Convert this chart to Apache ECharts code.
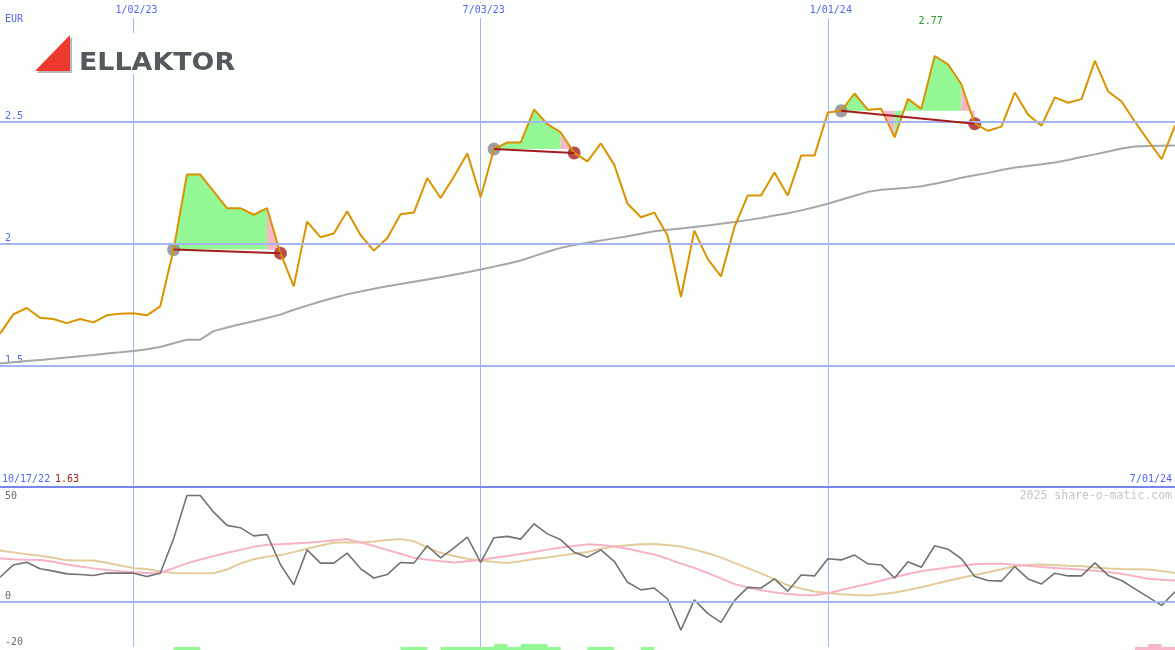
<!DOCTYPE html>
<html><head><meta charset="utf-8">
<script src="https://cdn.jsdelivr.net/npm/echarts@6/dist/echarts.min.js"></script>
<style>html,body{margin:0;padding:0;background:#fdfffd}#c{width:1175px;height:650px}</style>
</head><body><div id="c"></div>
<script>
// ---------- DATA ----------
const startDay = '2022-10-24';               // first weekly point
const dateTickLabels = ['1/02/23', '7/03/23', '1/01/24'];
const periodStartLabel = '10/17/22';
const periodEndLabel = '7/01/24';
const currencyLabel = 'EUR';
const creditLabel = '2025 share-o-matic.com';
const companyName = 'ELLAKTOR';

const price = [
  1.630, 1.709, 1.735, 1.695, 1.690, 1.673, 1.690, 1.676, 1.705, 1.712,
  1.714, 1.705, 1.742, 1.975, 2.283, 2.283, 2.214, 2.145, 2.145, 2.118,
  2.145, 1.960, 1.824, 2.090, 2.026, 2.041, 2.132, 2.035, 1.971, 2.022,
  2.120, 2.127, 2.269, 2.187, 2.275, 2.370, 2.190, 2.388, 2.415, 2.415,
  2.551, 2.490, 2.456, 2.372, 2.337, 2.411, 2.324, 2.163, 2.108, 2.127,
  2.033, 1.780, 2.053, 1.937, 1.865, 2.067, 2.197, 2.197, 2.292, 2.197,
  2.361, 2.361, 2.538, 2.545, 2.616, 2.549, 2.553, 2.436, 2.594, 2.553,
  2.770, 2.736, 2.654, 2.492, 2.463, 2.480, 2.620, 2.529, 2.484, 2.600,
  2.578, 2.593, 2.750, 2.624, 2.583, 2.500, 2.422, 2.346, 2.484
];
const movingAvg = [
  1.507, 1.512, 1.517, 1.522, 1.527, 1.532, 1.537, 1.542, 1.548, 1.553,
  1.559, 1.566, 1.575, 1.590, 1.605, 1.605, 1.640, 1.655, 1.668, 1.681,
  1.694, 1.708, 1.728, 1.745, 1.762, 1.777, 1.791, 1.803, 1.814, 1.824,
  1.834, 1.843, 1.852, 1.861, 1.872, 1.882, 1.893, 1.905, 1.917, 1.930,
  1.948, 1.966, 1.982, 1.994, 2.003, 2.012, 2.021, 2.030, 2.040, 2.050,
  2.056, 2.062, 2.068, 2.074, 2.081, 2.088, 2.096, 2.105, 2.115, 2.124,
  2.136, 2.149, 2.163, 2.180, 2.196, 2.212, 2.221, 2.225, 2.229, 2.235,
  2.245, 2.257, 2.270, 2.280, 2.290, 2.302, 2.312, 2.318, 2.325, 2.333,
  2.343, 2.355, 2.366, 2.378, 2.390, 2.398, 2.400, 2.401, 2.402
];
// trades: entry week index, exit week index, weeks (interval starts) shown as losing
const tradeEntry = [13, 37, 63];
const tradeExit = [21, 43, 73];
const lossWeeks = [20, 42, 66, 72];

const oscillator = [
  10.5, 15.9, 17.1, 14.2, 13.2, 12.0, 11.7, 11.3, 12.4, 12.3,
  12.3, 10.8, 12.3, 27.3, 46.3, 46.3, 39.0, 33.2, 32.2, 28.6,
  29.2, 16.1, 7.2, 22.5, 16.7, 16.7, 21.1, 14.3, 10.2, 11.7,
  17.0, 16.7, 24.3, 19.0, 23.4, 28.1, 17.0, 27.8, 28.4, 27.2,
  33.9, 29.5, 26.9, 21.5, 19.3, 22.5, 17.5, 8.3, 5.0, 5.8,
  1.0, -12.6, 0.6, -5.3, -9.2, 0.3, 6.1, 5.8, 9.8, 4.4,
  11.5, 11.1, 18.6, 18.1, 20.2, 16.4, 15.9, 10.2, 17.3, 14.9,
  24.3, 22.8, 18.6, 10.8, 9.1, 8.8, 15.2, 9.8, 7.6, 12.3,
  11.1, 11.1, 16.8, 11.3, 9.1, 5.4, 1.8, -1.8, 4.2
];
const signalFast = [
  18.7, 18.4, 18.2, 18.1, 17.3, 16.1, 15.2, 14.4, 13.7, 13.1,
  12.7, 12.4, 12.5, 14.5, 16.6, 18.3, 19.8, 21.2, 22.5, 23.8,
  24.7, 25.0, 25.3, 25.6, 26.1, 26.7, 27.2, 25.8, 24.2, 22.5,
  20.8, 19.0, 18.2, 17.5, 17.0, 17.5, 18.1, 19.0, 19.8, 20.7,
  21.6, 22.6, 23.5, 24.2, 24.9, 24.6, 24.0, 23.0, 21.7, 20.5,
  18.6, 16.5, 14.6, 12.4, 10.0, 7.5, 6.0, 4.8, 3.9, 3.2,
  2.8, 2.6, 3.5, 4.9, 6.3, 7.6, 9.1, 10.5, 11.9, 13.1,
  14.0, 14.8, 15.5, 16.2, 16.4, 16.4, 16.0, 15.5, 15.0, 14.6,
  14.2, 13.8, 13.4, 12.8, 12.0, 11.0, 9.9, 9.4, 9.1
];
const signalSlow = [
  22.2, 21.4, 20.6, 19.9, 19.0, 17.9, 17.8, 17.8, 16.9, 15.7,
  14.5, 14.1, 13.0, 12.4, 12.3, 12.3, 12.3, 13.9, 16.5, 18.4,
  19.5, 20.2, 21.5, 23.0, 24.4, 25.6, 25.8, 25.7, 26.2, 26.8,
  27.2, 26.3, 23.5, 21.2, 19.8, 18.6, 17.8, 17.2, 16.8, 17.5,
  18.5, 19.2, 20.0, 20.8, 21.6, 23.0, 24.0, 24.5, 25.0, 25.1,
  24.6, 24.0, 22.6, 21.0, 19.2, 16.8, 14.5, 12.2, 9.7, 7.0,
  5.6, 4.3, 3.6, 3.1, 2.7, 2.5, 3.1, 3.8, 4.9, 6.1,
  7.6, 9.0, 10.3, 11.5, 12.7, 14.0, 15.3, 15.9, 16.1, 15.9,
  15.6, 15.4, 14.8, 14.3, 14.1, 14.0, 13.9, 13.2, 12.4
];
const barsUp = [
  0,0,0,0,0,0,0,0,0,0, 0,0,0,1,1,0,0,0,0,0, 0,0,0,0,0,0,0,0,0,0,
  1,1,0,1,1,1,1,2,1,2, 2,1,0,0,1,1,0,0,1,0, 0,0,0,0,0,0,0,0,0,0,
  0,0,0,0,0,0,0,0,0,0, 0,0,0,0,0,0,0,0,0,0, 0,0,0,0,0,0,0,0,0
];
const barsDown = [
  0,0,0,0,0,0,0,0,0,0, 0,0,0,0,0,0,0,0,0,0, 0,0,0,0,0,0,0,0,0,0,
  0,0,0,0,0,0,0,0,0,0, 0,0,0,0,0,0,0,0,0,0, 0,0,0,0,0,0,0,0,0,0,
  0,0,0,0,0,0,0,0,0,0, 0,0,0,0,0,0,0,0,0,0, 0,0,0,0,0,1,2,1,0
];
const mainTicks = [1.5, 2, 2.5];
const lowerTicks = [50, 0, -20];

// ---------- BUILD ----------
const t0 = Date.parse(startDay + 'T00:00:00Z');
const dates = price.map((_, i) => {
  const d = new Date(t0 + i * 7 * 86400000);
  return (d.getUTCMonth() + 1) + '/' + String(d.getUTCDate()).padStart(2, '0') + '/' + String(d.getUTCFullYear()).slice(2);
});
const isTick = (i) => dateTickLabels.includes(dates[i]);

const MONO = '"DejaVu Sans Mono", monospace';
const BLUE = '#5565ee';
const GRIDC = '#a5b3f2';
const GREEN = '#94f894';
const PINK = '#f9b6c7';
const BG = '#fdfffd';

const fillSeries = [];
tradeEntry.forEach((e, t) => {
  const x = tradeExit[t], level = price[e];
  let runStart = e;
  for (let k = e; k < x; k++) {
    const loss = lossWeeks.includes(k);
    const last = (k + 1 === x);
    const nextLoss = last ? null : lossWeeks.includes(k + 1);
    if (last || nextLoss !== loss) {
      const a = runStart, b = k + 1;
      fillSeries.push({
        type: 'line', xAxisIndex: 0, yAxisIndex: 0, silent: true, z: 1,
        data: price.map((v, i) => (i >= a && i <= b) ? v : '-'),
        symbol: 'none', showSymbol: false,
        lineStyle: { opacity: 0, width: 0 },
        areaStyle: { color: loss ? PINK : GREEN, opacity: 1, origin: level }
      });
      runStart = k + 1;
    }
  }
});

const chart = echarts.init(document.getElementById('c'), null, { renderer: 'canvas' });
const catAxis = (gi, extra) => Object.assign({
  gridIndex: gi, type: 'category', data: dates, boundaryGap: false,
  axisTick: { show: false }, axisLine: { show: false, onZero: false }, axisLabel: { show: false },
  splitLine: { show: true, interval: (i) => isTick(i), lineStyle: { color: GRIDC, width: 1 } }
}, extra);

chart.setOption({
  animation: false,
  backgroundColor: BG,
  grid: [
    { left: 0, right: 0, top: -1, height: 488 },
    { left: 0, right: 0, top: 487, height: 160 },
    { left: 0, right: 0, top: 641, height: 9 }
  ],
  xAxis: [
    catAxis(0, {
      position: 'top',
      axisLabel: {
        show: true, inside: true, margin: 3, interval: (i) => isTick(i),
        color: BLUE, fontFamily: MONO, fontSize: 10, lineHeight: 12,
        backgroundColor: BG, padding: [1, 0, 2, 6]
      }
    }),
    catAxis(1, { position: 'top', axisLine: { show: true, onZero: false, lineStyle: { color: '#7886ea', width: 2 } } }),
    catAxis(2, { show: false, splitLine: { show: false } })
  ],
  yAxis: [
    {
      gridIndex: 0, type: 'value', min: 1, max: 3, interval: 0.5,
      axisLine: { show: false }, axisTick: { show: false }, splitLine: { show: false },
      axisLabel: {
        inside: true, margin: 5, verticalAlign: 'bottom',
        color: BLUE, fontFamily: MONO, fontSize: 10,
        formatter: (v) => mainTicks.includes(v) ? String(v) : ''
      }
    },
    {
      gridIndex: 1, type: 'value', min: -20, max: 50, interval: 10,
      axisLine: { show: false }, axisTick: { show: false }, splitLine: { show: false },
      axisLabel: {
        inside: true, margin: 5, verticalAlign: 'middle', showMinLabel: true, showMaxLabel: true,
        color: '#6c6c6c', fontFamily: MONO, fontSize: 10,
        formatter: (v) => !lowerTicks.includes(v) ? '' : (v === lowerTicks[0] ? '{dn|' + v + '}' : '{up|' + v + '}'),
        rich: {
          dn: { padding: [18, 0, 0, 0], color: '#6c6c6c', fontFamily: MONO, fontSize: 10 },
          up: { padding: [0, 0, 10, 0], color: '#6c6c6c', fontFamily: MONO, fontSize: 10 }
        }
      }
    },
    { gridIndex: 2, type: 'value', min: 0, max: 3, show: false, splitLine: { show: false } }
  ],
  series: [
    {
      // carrier for the horizontal price grid lines (drawn beneath everything)
      type: 'line', name: 'gridlines', xAxisIndex: 0, yAxisIndex: 0, z: 0, silent: true,
      data: price, symbol: 'none', lineStyle: { opacity: 0, width: 0 },
      markLine: {
        silent: true, symbol: ['none', 'none'], label: { show: false },
        lineStyle: { color: GRIDC, width: 2, type: 'solid' },
        data: mainTicks.map((v) => ({ yAxis: v }))
      }
    },
    {
      type: 'line', name: 'avg', xAxisIndex: 0, yAxisIndex: 0, data: movingAvg, z: 2,
      symbol: 'none', lineStyle: { color: '#a7a7a7', width: 2 }, silent: true
    },
    ...fillSeries,
    {
      type: 'scatter', name: 'entries', xAxisIndex: 0, yAxisIndex: 0, z: 3, silent: true,
      symbolSize: 13, itemStyle: { color: '#868686' },
      data: tradeEntry.map((e) => [e, price[e]])
    },
    {
      type: 'scatter', name: 'exits', xAxisIndex: 0, yAxisIndex: 0, z: 3, silent: true,
      symbolSize: 13, itemStyle: { color: '#a6221e' },
      data: tradeExit.map((e) => [e, price[e]]),
      markLine: {
        silent: true, symbol: ['none', 'none'], label: { show: false },
        lineStyle: { color: '#a31d1d', width: 2, type: 'solid' },
        data: tradeEntry.map((e, t) => [{ coord: [e, price[e]] }, { coord: [tradeExit[t], price[tradeExit[t]]] }])
      }
    },
    {
      type: 'line', name: 'price', xAxisIndex: 0, yAxisIndex: 0, data: price, z: 4,
      symbol: 'none', lineStyle: { color: '#db9200', width: 2 }, silent: true,
      markPoint: {
        symbol: 'circle', symbolSize: 1, itemStyle: { color: 'rgba(0,0,0,0)' },
        label: { show: true, position: 'inside', offset: [-4, -35], color: '#2f9a2f', fontFamily: MONO, fontSize: 10,
          formatter: (p) => Number(p.value).toFixed(2) },
        data: [{ type: 'max' }]
      }
    },
    {
      type: 'line', name: 'slow', xAxisIndex: 1, yAxisIndex: 1, data: signalSlow, z: 2,
      symbol: 'none', lineStyle: { color: '#e4cb9b', width: 2 }, silent: true
    },
    {
      type: 'line', name: 'fast', xAxisIndex: 1, yAxisIndex: 1, data: signalFast, z: 2,
      symbol: 'none', lineStyle: { color: '#f8b2c5', width: 2 }, silent: true
    },
    {
      type: 'line', name: 'osc', xAxisIndex: 1, yAxisIndex: 1, data: oscillator, z: 3,
      symbol: 'none', lineStyle: { color: '#727272', width: 1.6 }, silent: true,
      markLine: {
        silent: true, symbol: ['none', 'none'], label: { show: false },
        lineStyle: { color: GRIDC, width: 2, type: 'solid' },
        data: [{ yAxis: 0 }]
      }
    },
    {
      type: 'line', name: 'barsUp', xAxisIndex: 2, yAxisIndex: 2, data: barsUp, step: 'end',
      symbol: 'none', lineStyle: { width: 0, opacity: 0 }, areaStyle: { color: GREEN, opacity: 1, origin: 'start' }, silent: true
    },
    {
      type: 'line', name: 'barsDown', xAxisIndex: 2, yAxisIndex: 2, data: barsDown, step: 'end',
      symbol: 'none', lineStyle: { width: 0, opacity: 0 }, areaStyle: { color: PINK, opacity: 1, origin: 'start' }, silent: true
    }
  ],
  graphic: [
    { type: 'rect', shape: { x: 0, y: -2, width: 1175, height: 4 }, style: { fill: BG }, z: 45, silent: true },
    { type: 'rect', shape: { x: 30, y: 33, width: 212, height: 41 }, style: { fill: BG }, z: 50 },
    { type: 'polygon', shape: { points: [[37, 73], [72, 37], [72, 73]] }, style: { fill: '#b8b8b8' }, z: 51 },
    { type: 'polygon', shape: { points: [[35, 71], [70, 35], [70, 71]] }, style: { fill: '#ee3a2e' }, z: 52 },
    { type: 'group', x: 79, y: 63.5, scaleX: 1.12, z: 52, children: [
      { type: 'text', style: { x: 0, y: 0, text: companyName, font: 'bold 24px "DejaVu Sans"', fill: '#55585d', align: 'left', verticalAlign: 'middle' }, z: 52 }
    ] },
    { type: 'text', style: { x: 5, y: 19, text: currencyLabel, font: '10px ' + MONO, fill: BLUE, verticalAlign: 'middle' }, z: 60 },
    { type: 'text', style: { x: 2, y: 479, text: periodStartLabel, font: '10px ' + MONO, fill: BLUE, verticalAlign: 'middle' }, z: 60 },
    { type: 'text', style: { x: 55, y: 479, text: price[0].toFixed(2), font: '10px ' + MONO, fill: '#a52020', verticalAlign: 'middle' }, z: 60 },
    { type: 'text', style: { x: 1172, y: 479, text: periodEndLabel, font: '10px ' + MONO, fill: BLUE, align: 'right', verticalAlign: 'middle' }, z: 60 },
    { type: 'text', style: { x: 1172, y: 496, text: creditLabel, font: '11.5px ' + MONO, fill: '#c6c6c6', align: 'right', verticalAlign: 'middle' }, z: 60 }
  ]
});
</script></body></html>
